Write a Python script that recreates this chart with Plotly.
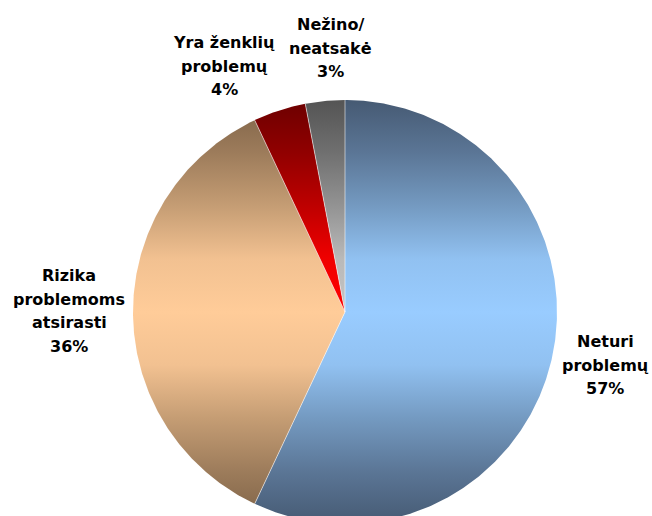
import numpy as np
import plotly.graph_objects as go

# Survey answers, clockwise from 12 o'clock
labels = ["Neturi\nproblemų", "Rizika\nproblemoms\natsirasti", "Yra ženklių\nproblemų", "Nežino/\nneatsakė"]
values = [57, 36, 4, 3]

# Dark edge / light centre colour of each slice's vertical gradient
dark_colors = ["#465a73", "#7c6146", "#6c0000", "#545454"]
light_colors = ["#99ccff", "#ffcc99", "#ff0000", "#c4c4c4"]

# Label block centres (pixel-like axis units, origin at pie centre)
label_x = [260, -276, -121, -15]
label_y = [-53, 1, 246, 264]

W, H = 652, 516
CX, CY = 345, 312          # pie centre in the page
R = 212                    # pie radius
LINE_GAP = 23.5

# Share of the light colour by distance from the horizontal centre line
shade_dist = [0.0, 0.25, 0.5, 0.75, 1.0]
shade_light = [1.0, 0.9, 0.56, 0.25, 0.0]


def hex_rgb(h):
    h = h.lstrip("#")
    return np.array([int(h[k:k + 2], 16) for k in (0, 2, 4)], dtype=float)


def blend(dark, light, f):
    c = hex_rgb(dark) * (1 - f) + hex_rgb(light) * f
    return "rgb({:.0f},{:.0f},{:.0f})".format(*c)


def band_scale(dark, light):
    stops = {}
    for d, f in zip(shade_dist, shade_light):
        stops[0.5 - d / 2] = blend(dark, light, f)
        stops[0.5 + d / 2] = blend(dark, light, f)
    return [[p, stops[p]] for p in sorted(stops)]


fig = go.Figure()

total = float(sum(values))
bounds = np.concatenate([[0.0], np.cumsum(values) / total * 2 * np.pi])

for i, v in enumerate(values):
    a0, a1 = bounds[i], bounds[i + 1]
    n = max(8, int(np.degrees(a1 - a0) * 2))
    t = np.linspace(a0, a1, n)
    xs = np.concatenate([[0.0], R * np.sin(t), [0.0]])
    ys = np.concatenate([[0.0], R * np.cos(t), [0.0]])
    fig.add_trace(go.Scatter(
        x=xs, y=ys, mode="lines", fill="toself",
        line=dict(width=0, color=dark_colors[i]),
        fillgradient=dict(
            type="vertical",
            colorscale=band_scale(dark_colors[i], light_colors[i]),
            start=-R, stop=R,
        ),
        hoverinfo="skip", showlegend=False,
    ))

# Thin light separators between slices
sx, sy = [], []
for a in bounds[:-1]:
    sx += [0.0, R * np.sin(a), None]
    sy += [0.0, R * np.cos(a), None]
fig.add_trace(go.Scatter(
    x=sx, y=sy, mode="lines",
    line=dict(color="rgba(255,255,255,0.55)", width=1),
    hoverinfo="skip", showlegend=False,
))

# Category labels with percentages, one annotation per text line
for i, v in enumerate(values):
    lines = labels[i].split("\n") + [f"{v}%"]
    n = len(lines)
    for k, txt in enumerate(lines):
        fig.add_annotation(
            x=label_x[i], y=label_y[i] + ((n - 1) / 2 - k) * LINE_GAP,
            text=f"<b>{txt}</b>", showarrow=False,
            xanchor="center", yanchor="middle",
            font=dict(family="DejaVu Sans", size=16, color="#000000"),
        )

fig.update_layout(
    width=W, height=H,
    margin=dict(l=0, r=0, t=0, b=0),
    paper_bgcolor="white", plot_bgcolor="white",
    xaxis=dict(range=[-CX, W - CX], visible=False, fixedrange=True),
    yaxis=dict(range=[-(H - CY), CY], visible=False, fixedrange=True),
    showlegend=False,
)

fig.write_html("out.html")
